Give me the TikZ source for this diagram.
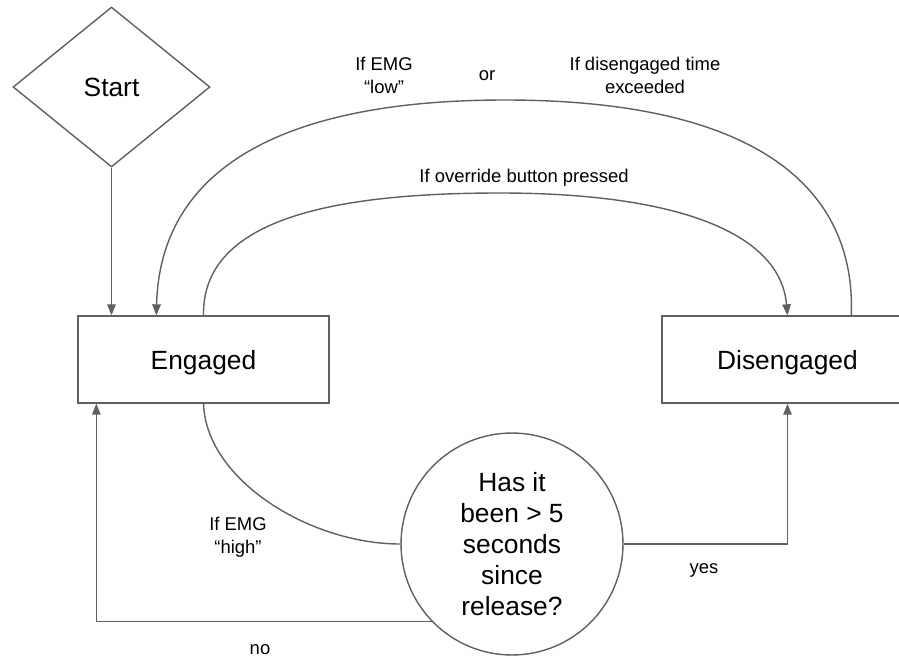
\documentclass[tikz,border=0pt]{standalone}
\usepackage{fontspec}
\setmainfont{Liberation Sans}
\usetikzlibrary{shapes.geometric, arrows.meta}
\definecolor{lineGray}{RGB}{96,96,96}

\begin{document}
\begin{tikzpicture}[
  x=0.02cm, y=-0.02cm,
  stateBox/.style  = {rectangle, draw=lineGray, line width=0.8pt,
                      minimum width=5.02cm, minimum height=1.74cm, text depth=0pt,
                      font=\fontsize{15}{18}\selectfont},
  startBox/.style  = {diamond, draw=lineGray, line width=0.8pt,
                      minimum width=3.94cm, minimum height=3.2cm, inner sep=0pt,
                      text depth=0pt, font=\fontsize{15}{18}\selectfont},
  queryBox/.style  = {circle, draw=lineGray, line width=0.8pt,
                      minimum size=4.44cm, inner sep=0pt, align=center,
                      font=\fontsize{15}{17.7}\selectfont},
  cond/.style      = {font=\fontsize{10.5}{13}\selectfont, align=center},
  arr/.style       = {-{Triangle[length=0.22cm, width=0.17cm]}, line width=0.8pt, draw=lineGray},
  wire/.style      = {line width=0.8pt, draw=lineGray},
]
\useasboundingbox (0,0) rectangle (899,659);
\clip (0,0) rectangle (899,659);

\node[startBox] (start) at (111.5,87) {Start};
\node[stateBox] (eng)   at (203.5,359.5) {Engaged};
\node[stateBox] (dis)   at (787.5,359.5) {Disengaged};
\node[queryBox] (chk)   at (512,544)
  {Has it\\been > 5\\seconds\\since\\release?};

%% Condition labels
\node[cond] (lblLow)  at (384,75)  {If EMG\\“low”};
\node[cond] (lblOr)   at (487,76)  {or};
\node[cond] (lblTime) at (645,75)  {If disengaged time\\exceeded};
\node[cond] (lblOver) at (524,178) {If override button pressed};
\node[cond] (lblHigh) at (238,537) {If EMG\\“high”};
\node[cond] (lblYes)  at (704,570) {yes};
\node[cond] (lblNo)   at (260,650) {no};

\coordinate (arcTop)  at (505,100);
\coordinate (overTop) at (500,193);

%% Connecting arrows
\draw[arr] (start) -- (start |- eng.north);
\draw[arr] ([xshift=3.8cm]dis.north west)
  .. controls (856,190) and (760,100) .. (arcTop)
  .. controls (280,100) and (160,170) .. ([xshift=1.58cm]eng.north west);
\draw[arr] (eng.north)
  .. controls (202,220) and (330,193) .. (overTop)
  .. controls (670,193) and (780,230) .. (dis.north);
\draw[wire] (eng.south) .. controls (206,480) and (310,544) .. (chk.west);
\draw[arr] (chk.east) -| (dis.south);
\draw[arr] (chk.224) -| ([xshift=0.38cm]eng.south west);

\end{tikzpicture}
\end{document}
